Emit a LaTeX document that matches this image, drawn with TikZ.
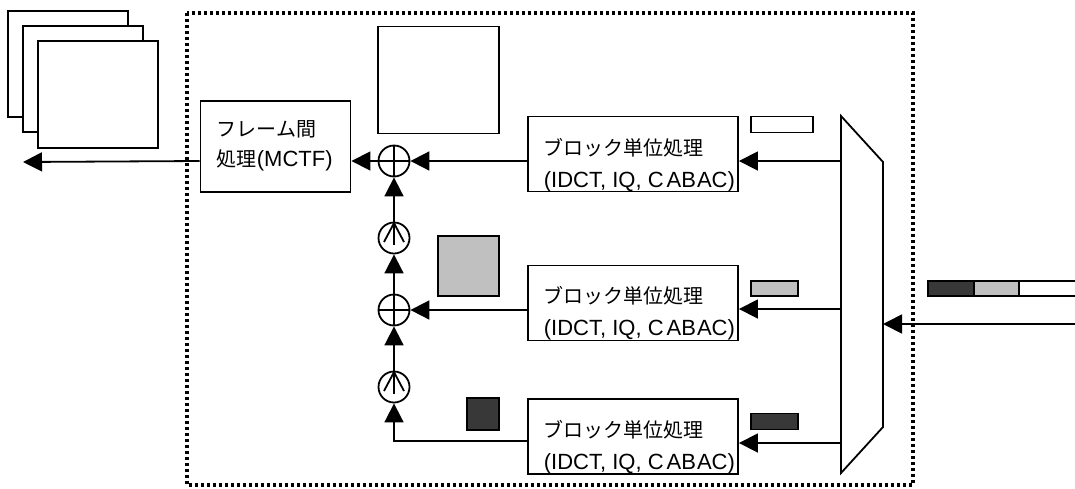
\documentclass[tikz,border=0pt]{standalone}
\usepackage{fontspec}
\setmainfont{Liberation Sans}
\newfontfamily\cjk{Noto Sans CJK JP}
\usetikzlibrary{arrows.meta,calc}
\definecolor{lgray}{RGB}{192,192,192}
\definecolor{dgray}{RGB}{56,56,56}
\newcommand{\jp}[1]{{\cjk\fontsize{20}{32}\selectfont #1}}
\begin{document}
\begin{tikzpicture}[x=1pt,y=-1pt,line width=1.8pt,
  arr/.style={-{Triangle[length=19pt,width=19pt]}},
  blk/.style={draw,line width=1.9pt,minimum width=210pt,minimum height=75pt,inner sep=0pt},
  txt/.style={align=left,inner sep=0pt,font=\fontsize{22}{32}\selectfont},
  addnode/.style={draw,line width=1.8pt,circle,minimum size=31pt,inner sep=0pt},
  frm/.style={draw,fill=white,line width=1.9pt},
  sqr/.style={draw,line width=1.9pt,inner sep=0pt}]
\useasboundingbox (0,0) rectangle (1075,488);
% stacked frames
\draw[frm] (8,11) rectangle (128,117);
\draw[frm] (23,26) rectangle (143,132);
\draw[frm] (38,41) rectangle (158,148);
% dotted frame
\draw[line width=3.3pt,dash pattern=on 3.2pt off 2.8pt] (187,13) rectangle (913,485);
% reference squares
\node[sqr,minimum width=121pt,minimum height=107pt] (sq1) at (438.5,80) {};
\node[sqr,fill=lgray,minimum width=61pt,minimum height=60pt] (sq2) at (468.5,266) {};
\node[sqr,fill=dgray,minimum width=32pt,minimum height=32pt] (sq3) at (483,414) {};
% MCTF box
\node[sqr,minimum width=150pt,minimum height=91pt] (mctf) at (275.5,146.5) {};
\node[txt,anchor=west,font=\fontsize{22}{30}\selectfont] (mctft) at (216,146) {\jp{フレーム間}\\\jp{処理}(MCTF)};
% block boxes
\node[blk] (b1) at (633,154) {};
\node[blk] (b2) at (633,303) {};
\node[blk] (b3) at (633,436.5) {};
\node[txt,anchor=west] (t1) at (543,165) {\jp{ブロック単位処理}\\(IDCT, IQ, C\kern3pt AB\kern1pt AC)};
\node[txt,anchor=west] (t2) at (543,313) {\jp{ブロック単位処理}\\(IDCT, IQ, C\kern3pt AB\kern1pt AC)};
\node[txt,anchor=west] (t3) at (543,447) {\jp{ブロック単位処理}\\(IDCT, IQ, C\kern3pt AB\kern1pt AC)};
% small bars
\node[sqr,minimum width=62pt,minimum height=16pt] (bar1) at (782,124.5) {};
\node[sqr,fill=lgray,minimum width=47pt,minimum height=15pt] (bar2) at (774.5,288.5) {};
\node[sqr,fill=dgray,minimum width=47pt,minimum height=16pt] (bar3) at (774.5,421.5) {};
% bitstream
\draw[line width=1.9pt,fill=dgray] (928,281) rectangle (974,296);
\draw[line width=1.9pt,fill=lgray] (974,281) rectangle (1019,296);
\draw[line width=1.9pt] (1078,281) -- (1019,281) -- (1019,296) -- (1078,296);
% demux
\coordinate (mtl) at (841,116);
\coordinate (mtr) at (883,162);
\coordinate (mbr) at (883,427);
\coordinate (mbl) at (841,473);
\draw (mtl) -- (mtr) -- (mbr) -- (mbl) -- cycle;
\coordinate (m1) at (841,161);
\coordinate (m2) at (841,309);
\coordinate (m3) at (841,443);
\coordinate (mr) at (883,324);
\coordinate (in) at (1078,324);
% adders and upsamplers
\node[addnode] (add1) at (394,161) {};
\node[addnode] (up1) at (394,238) {};
\node[addnode] (add2) at (394,310) {};
\node[addnode] (up2) at (394,387) {};
\foreach \a in {add1,add2}{
  \draw (\a.north) -- (\a.south);
  \draw (\a.west) -- (\a.east);
}
\foreach \u in {up1,up2}{
  \draw (\u.north) -- ($(\u.center)+(0,7)$);
  \draw ($(\u.center)+(-10,4)$) -- ($(\u.north)+(0,1.5)$) -- ($(\u.center)+(10,4)$);
}
\coordinate (out) at (23,162);
\coordinate (c3) at (394,441);
% connectors
\draw[arr] (m1) -- (m1 -| b1.east);
\draw[arr] (m2) -- (m2 -| b2.east);
\draw[arr] (m3) -- (m3 -| b3.east);
\draw[arr] (in) -- (mr);
\draw[arr] (add1 -| b1.west) -- (add1.east);
\draw[arr] (add2 -| b2.west) -- (add2.east);
\draw[arr] (add1.west) -- (add1 -| mctf.east);
\draw[arr] (add1 -| mctf.west) -- (out);
\draw[arr] (up1.north) -- (add1.south);
\draw[arr] (add2.north) -- (up1.south);
\draw[arr] (up2.north) -- (add2.south);
\draw[arr] (c3 -| b3.west) -- (c3) -- (up2.south);
\end{tikzpicture}
\end{document}
